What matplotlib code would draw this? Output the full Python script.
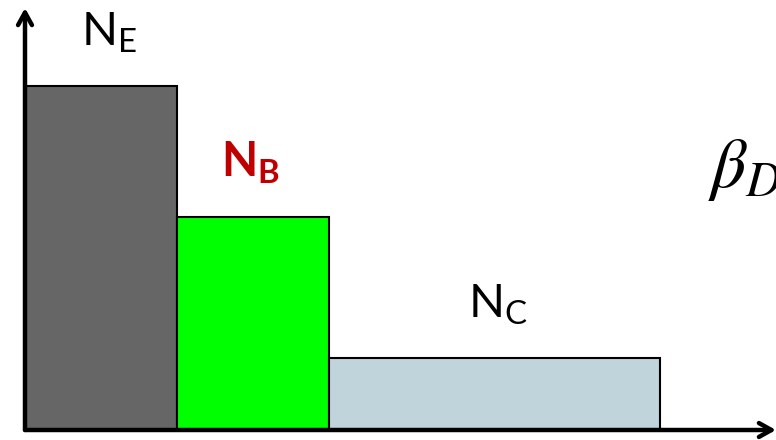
import matplotlib.pyplot as plt

# bar data (relative units)
names = ['E', 'B', 'C']
heights = [4.78, 2.96, 1.0]
widths = [1.0, 1.0, 2.18]
colors = ['#666666', '#00ff00', '#c0d4dc']
label_colors = ['black', '#c00000', 'black']
label_weights = ['normal', 'bold', 'normal']
label_dx = [6, -2, 2]  # small nudges in points

plt.rcParams['font.family'] = ['Lato', 'DejaVu Sans']
plt.rcParams['mathtext.fontset'] = 'stix'

fig = plt.figure(figsize=(7.76, 4.40), dpi=100)
ax = fig.add_axes([25/776, 10/440, 751/776, 422/440])
ax.set_xlim(0, 751/152)
ax.set_ylim(0, 422/72)
ax.axis('off')

lefts = []
x = 0
for w in widths:
    lefts.append(x)
    x += w

ax.bar(lefts, heights, width=widths, align='edge', color=colors,
       edgecolor='black', linewidth=1.5, zorder=2)

for i in range(3):
    cx = lefts[i] + widths[i]/2
    ax.annotate(r'$\mathregular{N_%s}$' % names[i], (cx, heights[i]),
                xytext=(label_dx[i], 29), textcoords='offset points',
                ha='center', va='baseline', fontsize=34,
                color=label_colors[i], fontweight=label_weights[i])

# axis arrows
arrow = dict(arrowstyle='->,head_length=0.9,head_width=0.5', lw=3.2,
             color='black', shrinkA=0, shrinkB=0)
ax.annotate('', xy=(0, 1.0), xytext=(0, 0), xycoords='axes fraction',
            arrowprops=arrow, annotation_clip=False)
ax.annotate('', xy=(1.0, 0), xytext=(0, 0), xycoords='axes fraction',
            arrowprops=arrow, annotation_clip=False)

fig.text(708/776, 1 - 187/440, r'$\beta_D$', fontsize=50, ha='left',
         va='baseline')

fig.savefig('out.png', dpi=100)
